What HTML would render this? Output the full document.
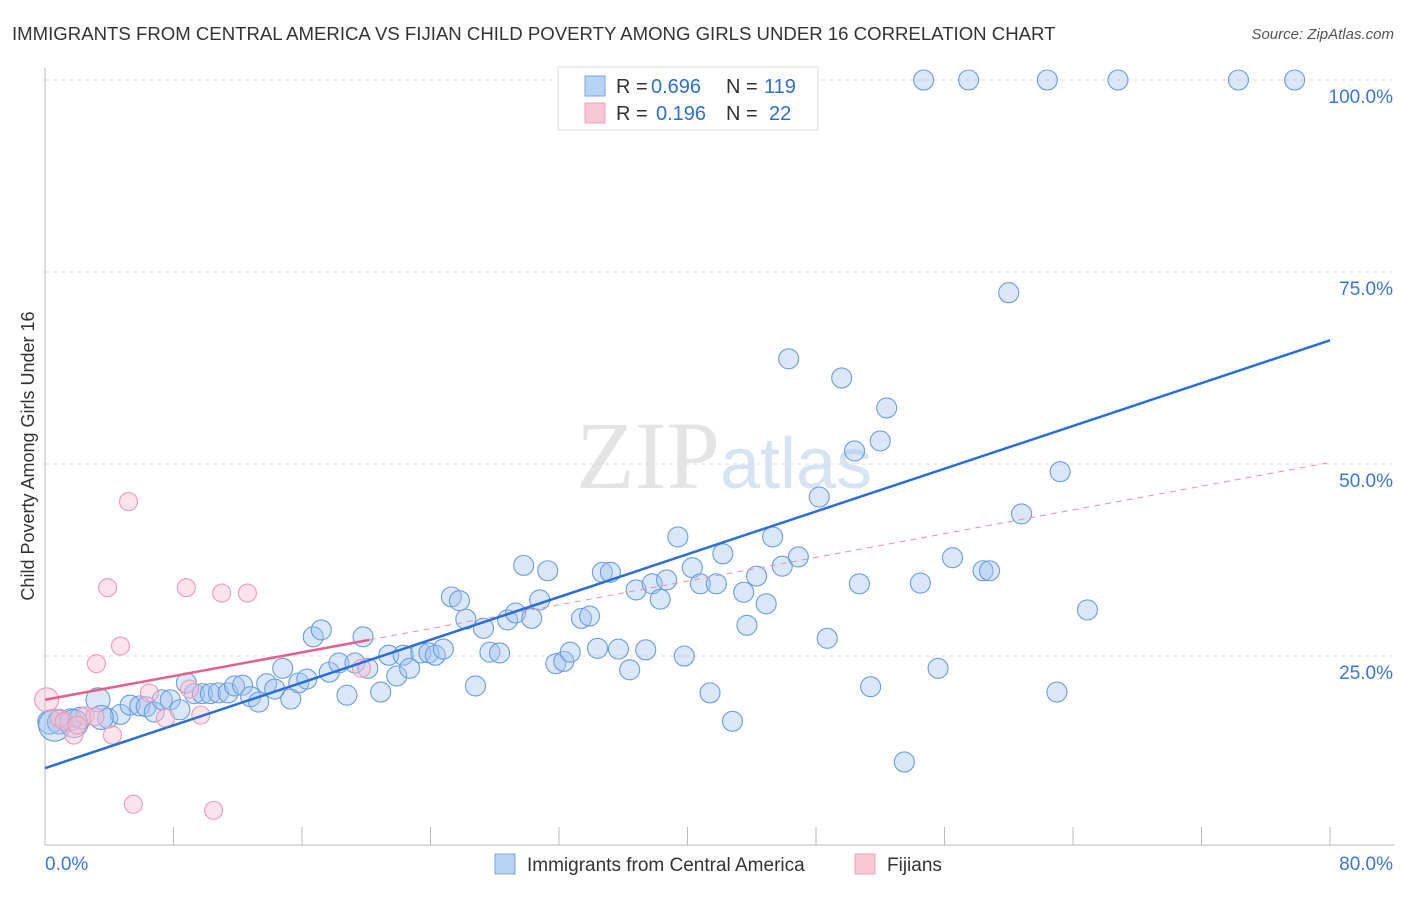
<!DOCTYPE html>
<html><head><meta charset="utf-8"><style>
body{margin:0;background:#fff;font-family:"Liberation Sans",sans-serif;}
</style></head><body>
<svg id="c" width="1406" height="892" xmlns="http://www.w3.org/2000/svg">
<text x="12" y="40" font-size="18.6" fill="#333">IMMIGRANTS FROM CENTRAL AMERICA VS FIJIAN CHILD POVERTY AMONG GIRLS UNDER 16 CORRELATION CHART</text>
<text x="1394" y="39" font-size="15" fill="#555" font-style="italic" text-anchor="end">Source: ZipAtlas.com</text>
<text x="720" y="488" font-size="96" fill="#e4e4e4" text-anchor="end" font-family="Liberation Serif">ZIP</text>
<text x="720" y="488" font-size="72" fill="#d6e3f3">atlas</text>
<g id="grid"></g>
<g id="axes"></g>
<g id="pts"></g>
<g id="trend"></g>
<text transform="translate(34,456) rotate(-90)" font-size="18" fill="#333" text-anchor="middle">Child Poverty Among Girls Under 16</text>
<g>
<rect x="558" y="67" width="260" height="63" fill="#fff" stroke="#ddd"/>
<rect x="585" y="76" width="20" height="20" fill="#b7d2f3" stroke="#7aa6e0"/>
<rect x="585" y="103" width="20" height="20" fill="#f9c6d6" stroke="#eea0b8"/>
<text x="616" y="93" font-size="20" fill="#333">R =</text>
<text x="651" y="93" font-size="20" fill="#2b6fd4">0.696</text>
<text x="726" y="93" font-size="20" fill="#333">N =</text>
<text x="764" y="93" font-size="20" fill="#2b6fd4">119</text>
<text x="616" y="120" font-size="20" fill="#333">R =</text>
<text x="656" y="120" font-size="20" fill="#2b6fd4">0.196</text>
<text x="726" y="120" font-size="20" fill="#333">N =</text>
<text x="769" y="120" font-size="20" fill="#2b6fd4">22</text>
</g>
<g>
<rect x="495" y="854" width="20" height="20" fill="#b7d2f3" stroke="#7aa6e0"/>
<text x="527" y="871" font-size="19" fill="#333">Immigrants from Central America</text>
<rect x="855" y="854" width="20" height="20" fill="#f9c6d6" stroke="#eea0b8"/>
<text x="887" y="871" font-size="19" fill="#333">Fijians</text>
</g>
</svg>
<script>
const blueX=[0.3,0.9,1.6,2.2,3.3,3.9,4.7,5.3,5.9,6.3,6.8,7.3,7.8,8.4,8.8,9.3,9.8,10.3,10.8,11.4,11.8,12.3,12.8,13.3,13.8,14.3,15.3,15.8,16.3,14.8,16.7,17.2,17.7,18.3,18.8,19.3,19.8,20.1,20.9,21.4,21.9,22.3,22.7,23.4,23.9,24.3,24.8,25.3,25.8,26.2,26.8,27.3,27.7,28.3,28.8,29.3,29.8,30.3,30.8,31.3,31.8,32.3,32.7,33.4,33.9,34.7,35.2,34.4,35.7,36.4,36.8,37.4,37.8,38.3,38.7,39.4,39.8,40.3,40.8,41.4,41.8,42.2,42.8,43.5,43.7,44.3,44.9,45.3,45.9,46.3,46.9,48.2,48.7,49.6,50.4,50.7,51.4,52.0,52.4,53.5,54.5,55.6,56.5,58.4,58.8,60.0,60.8,63.0,63.2,64.9,54.7,57.5,62.4,66.8,74.3,77.8,0.6,1.8,3.5];
const blueY=[16.4,16.4,16.7,16.9,19.3,16.9,17.4,18.6,18.5,18.4,17.7,19.3,19.3,18.0,21.5,20.1,20.1,20.1,20.2,20.2,21.1,21.2,19.7,19.0,21.4,20.7,19.4,21.5,22.0,23.4,27.5,28.4,22.9,24.1,19.9,24.1,27.5,23.4,20.3,25.1,22.4,25.1,23.4,25.4,25.4,25.1,25.9,32.7,32.2,29.8,21.1,28.6,25.5,25.4,29.7,30.6,36.8,29.9,32.3,36.1,24.0,24.3,25.5,29.9,30.2,35.9,35.9,26.0,25.9,23.2,33.6,25.8,34.4,32.4,34.9,40.5,25.0,36.5,34.4,20.2,34.4,38.3,16.5,33.3,29.0,35.4,31.8,40.5,36.7,63.7,37.9,45.7,27.3,61.2,51.7,34.4,21.0,53.0,57.3,11.2,34.5,23.4,37.8,36.1,36.1,72.3,43.5,20.3,49.0,31.0,100,100,100,100,100,100,16.0,16.2,17.0];
const blueR=[12,12,11,11,12,10,10,10,10,10,10,10,10,10,10,10,10,10,10,10,10,10,10,10,10,10,10,10,10,10,10,10,10,10,10,10,10,10,10,10,10,10,10,10,10,10,10,10,10,10,10,10,10,10,10,10,10,10,10,10,10,10,10,10,10,10,10,10,10,10,10,10,10,10,10,10,10,10,10,10,10,10,10,10,10,10,10,10,10,10,10,10,10,10,10,10,10,10,10,10,10,10,10,10,10,10,10,10,10,10,10,10,10,10,10,10,16,14,12];
const pinkX=[0.1,0.9,1.8,2.5,3.2,4.2,4.7,5.2,3.9,5.5,6.5,7.5,8.8,9.0,9.7,10.5,11.0,12.6,19.7,3.1,1.2,2.0];
const pinkY=[19.3,16.9,14.7,17.2,24.0,14.7,26.3,45.1,33.9,5.7,20.2,16.9,33.9,20.7,17.3,4.9,33.2,33.2,23.4,17.1,16.5,16.0];
const blueTrend=[10.4,66.1];
const pinkTrend=[19.3,50.2];
const pinkSolidEnd=20.2;
const yTicks=[25,50,75,100];
const xTickLabels=["0.0%","80.0%"];
const NS="http://www.w3.org/2000/svg";
const X=v=>45+v/80*1285, Y=v=>848-v*7.68;
function mk(t,a,p){const e=document.createElementNS(NS,t);for(const k in a)e.setAttribute(k,a[k]);p.appendChild(e);return e;}
const grid=document.getElementById('grid'),axes=document.getElementById('axes'),pts=document.getElementById('pts'),tr=document.getElementById('trend');
yTicks.forEach(v=>{
 const l=mk('line',{x1:45,x2:1394,y1:Y(v),y2:Y(v),stroke:'#ddd','stroke-dasharray':'4,4'},grid);
 
 
 const t=mk('text',{x:1393,y:Y(v)+23,'font-size':19,fill:'#3a78d4','text-anchor':'end'},grid);t.textContent=v.toFixed(1)+'%';
 
 
});
mk('line',{x1:45,x2:45,y1:68,y2:845,stroke:'#bbb'},axes);
mk('line',{x1:45,x2:1394,y1:845,y2:845,stroke:'#bbb'},axes);
for(let i=0;i<=10;i++){const l=mk('line',{x1:X(i*8),x2:X(i*8),y1:827,y2:845,stroke:'#bbb'},axes);
 
 }
const t0=mk('text',{x:45,y:870,'font-size':19,fill:'#3a78d4'},axes);t0.textContent=xTickLabels[0];


const t1=mk('text',{x:1393,y:870,'font-size':19,fill:'#3a78d4','text-anchor':'end'},axes);t1.textContent=xTickLabels[1];


blueX.forEach((v,i)=>{const c=mk('circle',{cx:X(v),cy:Y(blueY[i]),r:blueR[i]||10,fill:'rgba(160,196,240,0.4)',stroke:'#6a9ce0','stroke-width':1.1},pts);
 
 });
pinkX.forEach((v,i)=>{const c=mk('circle',{cx:X(v),cy:Y(pinkY[i]),r:i==0?12:9,fill:'rgba(248,190,210,0.45)',stroke:'#ec9ab4','stroke-width':1.1},pts);
 
 });
const pv=x=>pinkTrend[0]+(pinkTrend[1]-pinkTrend[0])*x/80;
let l=mk('line',{x1:X(pinkSolidEnd),y1:Y(pv(pinkSolidEnd)),x2:X(80),y2:Y(pinkTrend[1]),stroke:'#e790aa','stroke-width':1,'stroke-dasharray':'6,5'},tr);


l=mk('line',{x1:X(0),y1:Y(pinkTrend[0]),x2:X(pinkSolidEnd),y2:Y(pv(pinkSolidEnd)),stroke:'#e5608a','stroke-width':2.5},tr);


l=mk('line',{x1:X(0),y1:Y(blueTrend[0]),x2:X(80),y2:Y(blueTrend[1]),stroke:'#2a6fd6','stroke-width':2.5},tr);


</script>
</body></html>
